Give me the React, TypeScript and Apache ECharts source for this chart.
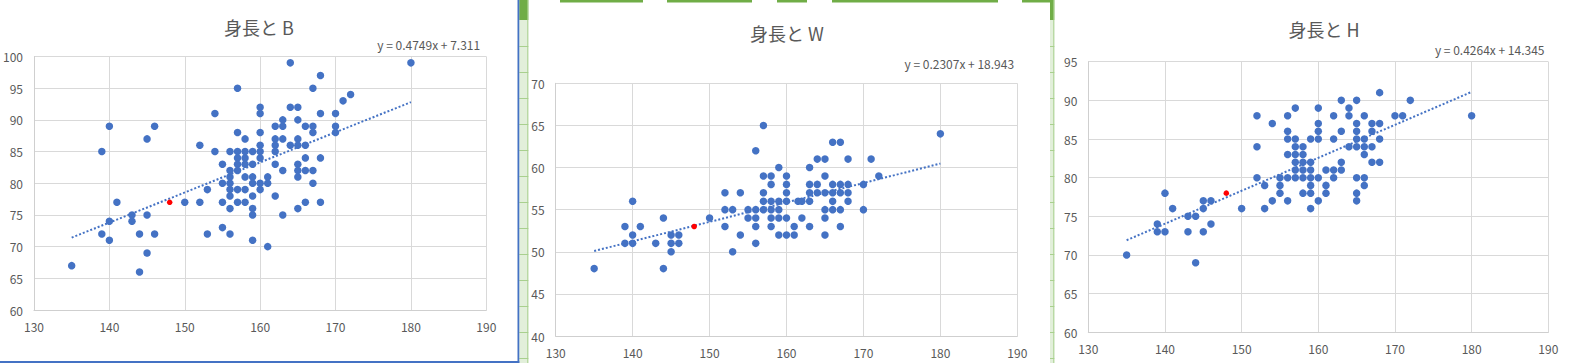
import { useEffect, useRef } from "react";
import * as echarts from "echarts";

// ---- data ----
const titles = ["身長と B", "身長と W", "身長と H"];
const equations = ["y = 0.4749x + 7.311", "y = 0.2307x + 18.943", "y = 0.4264x + 14.345"];
const trendSlopes = [0.4749, 0.2307, 0.4264];
const trendIntercepts = [7.311, 18.943, 14.345];
const trendXRange = [135, 180];
const xRange = [130, 190];
const xInterval = 10;
const yRanges = [
  [60, 100],
  [40, 70],
  [60, 95],
];
const yInterval = 5;

const bPoints: [number, number][] = [
  [135, 67], [139, 72], [139, 85], [140, 89], [140, 74], [140, 71], [141, 77], [143, 75], [143, 74],
  [144, 72], [144, 66], [145, 87], [145, 75], [145, 69], [146, 89], [146, 72], [150, 77],
  [152, 86], [152, 77], [153, 79], [153, 72], [154, 91], [154, 85],
  [155, 83], [155, 80], [155, 77], [155, 73],
  [156, 85], [156, 82], [156, 81], [156, 80], [156, 79], [156, 78], [156, 76], [156, 72],
  [157, 95], [157, 88], [157, 85], [157, 84], [157, 83], [157, 82], [157, 79], [157, 77],
  [158, 87], [158, 85], [158, 84], [158, 83], [158, 81], [158, 79], [158, 77],
  [159, 85], [159, 83], [159, 81], [159, 80], [159, 78], [159, 76], [159, 75], [159, 71],
  [160, 92], [160, 91], [160, 88], [160, 86], [160, 85], [160, 84], [160, 80], [160, 79],
  [161, 81], [161, 80], [161, 70],
  [162, 89], [162, 87], [162, 86], [162, 85], [162, 83], [162, 78],
  [163, 90], [163, 89], [163, 87], [163, 82], [163, 75],
  [164, 99], [164, 92], [164, 86],
  [165, 92], [165, 90], [165, 87], [165, 86], [165, 83], [165, 82], [165, 81], [165, 76],
  [166, 89], [166, 86], [166, 84], [166, 82], [166, 77],
  [167, 95], [167, 89], [167, 88], [167, 82], [167, 80],
  [168, 97], [168, 91], [168, 84], [168, 77],
  [170, 91], [170, 89], [170, 88],
  [171, 93], [172, 94], [180, 99],
];

const wPoints: [number, number][] = [
  [135, 48], [139, 53], [139, 51], [140, 56], [140, 52], [140, 51], [141, 53], [143, 51],
  [144, 54], [144, 48], [145, 52], [145, 51], [145, 50], [146, 52], [146, 51], [150, 54],
  [152, 57], [152, 55], [152, 53], [153, 55], [153, 50], [154, 57], [154, 52], [155, 55], [155, 54],
  [156, 62], [156, 55], [156, 54], [156, 53], [156, 51],
  [157, 65], [157, 59], [157, 57], [157, 56], [157, 55],
  [158, 59], [158, 58], [158, 56], [158, 55], [158, 54], [158, 53],
  [159, 60], [159, 56], [159, 55], [159, 54], [159, 52],
  [160, 59], [160, 58], [160, 57], [160, 56], [160, 54], [160, 52],
  [161, 53], [161, 52], [161.5, 56],
  [162, 56], [162, 54],
  [163, 60], [163, 58], [163, 57], [163, 56], [163, 53],
  [164, 61], [164, 58], [164, 57],
  [165, 61], [165, 59], [165, 57], [165, 55], [165, 54], [165, 52],
  [166, 63], [166, 58], [166, 57], [166, 56], [166, 55],
  [167, 63], [167, 58], [167, 57], [167, 55], [167, 53],
  [168, 61], [168, 58], [168, 57], [168, 56],
  [170, 58], [170, 55], [171, 61], [172, 59], [180, 64],
];

const hPoints: [number, number][] = [
  [135, 70], [139, 74], [139, 73], [140, 78], [140, 73], [141, 76], [143, 75], [143, 73],
  [144, 75], [144, 69], [145, 77], [145, 76], [145, 73], [146, 77], [146, 74], [150, 76],
  [152, 88], [152, 84], [152, 80], [153, 79], [153, 76], [154, 87], [154, 77],
  [155, 80], [155, 79], [155, 78],
  [156, 88], [156, 86], [156, 85], [156, 83], [156, 80], [156, 77],
  [157, 89], [157, 85], [157, 84], [157, 83], [157, 82], [157, 81], [157, 80],
  [158, 84], [158, 83], [158, 82], [158, 81], [158, 80], [158, 78],
  [159, 85], [159, 82], [159, 81], [159, 80], [159, 79], [159, 78], [159, 76],
  [160, 89], [160, 87], [160, 86], [160, 85], [160, 80], [160, 77],
  [161, 81], [161, 79], [161, 78],
  [162, 88], [162, 85], [162, 81], [162, 80],
  [163, 90], [163, 86], [163, 82], [163, 81],
  [164, 89], [164, 88], [164, 84],
  [165, 90], [165, 87], [165, 86], [165, 85], [165, 84], [165, 80], [165, 78], [165, 77],
  [166, 88], [166, 85], [166, 84], [166, 83], [166, 80], [166, 79],
  [167, 87], [167, 86], [167, 84], [167, 82],
  [168, 91], [168, 87], [168, 85], [168, 82],
  [170, 88], [171, 88], [172, 90], [180, 88],
];

const highlightPoints: [number, number][] = [
  [148, 77],
  [148, 53],
  [148, 78],
];

const allPoints = [bPoints, wPoints, hPoints];

// ---- layout / style ----
const FONT = '"Noto Sans CJK JP", "Noto Sans", sans-serif';
const GRAY_TEXT = "#595959";
const GRID_COLOR = "#d9d9d9";
const BLUE = "#4472c4";

const grids = [
  { left: 33.3, top: 56.5, width: 453, height: 253.5 },
  { left: 555.7, top: 83.3, width: 461.6, height: 252.7 },
  { left: 1088.3, top: 61.7, width: 460, height: 270.6 },
];
const titlePos = [
  [259, 27],
  [787, 32.5],
  [1324, 28.5],
];
const eqPos = [
  [428.7, 44.5],
  [959.3, 63.5],
  [1489.7, 49.5],
];

function buildOption() {
  const xAxis: any[] = [];
  const yAxis: any[] = [];
  const series: any[] = [];
  const graphic: any[] = [];

  grids.forEach((_, i) => {
    xAxis.push({
      type: "value",
      gridIndex: i,
      min: xRange[0],
      max: xRange[1],
      interval: xInterval,
      axisLine: { show: true, lineStyle: { color: "#cfcfcf", width: 1 } },
      axisTick: { show: false },
      axisLabel: { color: GRAY_TEXT, fontSize: 12, fontFamily: FONT, margin: 10 },
      splitLine: { show: true, lineStyle: { color: GRID_COLOR, width: 1 } },
    });
    yAxis.push({
      type: "value",
      gridIndex: i,
      min: yRanges[i][0],
      max: yRanges[i][1],
      interval: yInterval,
      axisLine: { show: true, lineStyle: { color: "#cfcfcf", width: 1 } },
      axisTick: { show: false },
      axisLabel: { color: GRAY_TEXT, fontSize: 12, fontFamily: FONT, margin: 11 },
      splitLine: { show: true, lineStyle: { color: GRID_COLOR, width: 1 } },
    });
    series.push({
      type: "scatter",
      xAxisIndex: i,
      yAxisIndex: i,
      data: allPoints[i],
      symbol: "circle",
      symbolSize: 7.5,
      itemStyle: { color: BLUE, opacity: 1 },
      z: 2,
    });
    series.push({
      type: "line",
      xAxisIndex: i,
      yAxisIndex: i,
      data: trendXRange.map((x) => [x, trendSlopes[i] * x + trendIntercepts[i]]),
      symbol: "none",
      showSymbol: false,
      lineStyle: { color: BLUE, width: 2, type: [2, 2] },
      z: 3,
    });
    series.push({
      type: "scatter",
      xAxisIndex: i,
      yAxisIndex: i,
      data: [highlightPoints[i]],
      symbol: "circle",
      symbolSize: 5.5,
      itemStyle: { color: "#ff0000", opacity: 1 },
      z: 4,
    });
    graphic.push({
      type: "text",
      x: titlePos[i][0],
      y: titlePos[i][1],
      style: {
        text: titles[i],
        fontSize: 18,
        fontFamily: FONT,
        fill: GRAY_TEXT,
        align: "center",
        verticalAlign: "middle",
      },
    });
    graphic.push({
      type: "text",
      x: eqPos[i][0],
      y: eqPos[i][1],
      style: {
        text: equations[i],
        fontSize: 12,
        fontFamily: FONT,
        fill: GRAY_TEXT,
        align: "center",
        verticalAlign: "middle",
      },
    });
  });

  // spreadsheet fragments between the charts
  const strips = [
    [519.3, 9],
    [1050, 4.3],
  ];
  strips.forEach(([sx, sw]) => {
    graphic.push({ type: "rect", shape: { x: sx, y: 0, width: sw, height: 363 }, style: { fill: "#e2efda" } });
    graphic.push({ type: "rect", shape: { x: sx, y: 0, width: sw, height: 20 }, style: { fill: "#70ad47" } });
    for (let ly = 46.5; ly < 363; ly += 26) {
      graphic.push({
        type: "line",
        shape: { x1: sx, y1: ly, x2: sx + sw, y2: ly },
        style: { stroke: "#a9d08e", lineWidth: 1 },
      });
    }
    graphic.push({
      type: "line",
      shape: { x1: sx + sw - 0.5, y1: 0, x2: sx + sw - 0.5, y2: 363 },
      style: { stroke: "#a9d08e", lineWidth: 1 },
    });
  });
  // top header cells above chart 2
  const topBars = [
    [560, 83],
    [667, 85],
    [777, 30],
    [832, 166],
    [1022, 28],
  ];
  topBars.forEach(([bx, bw]) => {
    graphic.push({ type: "rect", shape: { x: bx, y: 0, width: bw, height: 2.5 }, style: { fill: "#70ad47" } });
  });
  // selection border of the first chart
  graphic.push({ type: "rect", shape: { x: 517.5, y: 0, width: 1.8, height: 363 }, style: { fill: BLUE } });
  graphic.push({ type: "rect", shape: { x: 0, y: 361, width: 519.3, height: 2 }, style: { fill: BLUE } });

  return {
    animation: false,
    backgroundColor: "#ffffff",
    grid: grids.map((g) => ({ ...g, containLabel: false })),
    xAxis,
    yAxis,
    series,
    graphic,
  };
}

export default function App() {
  const ref = useRef<HTMLDivElement>(null);
  useEffect(() => {
    if (!ref.current) return;
    const chart = echarts.init(ref.current, undefined, { renderer: "svg" });
    chart.setOption(buildOption() as any);
    return () => chart.dispose();
  }, []);
  return (
    <div
      ref={ref}
      style={{ position: "absolute", left: 0, top: 0, width: 1569, height: 363, background: "#fff" }}
    />
  );
}
